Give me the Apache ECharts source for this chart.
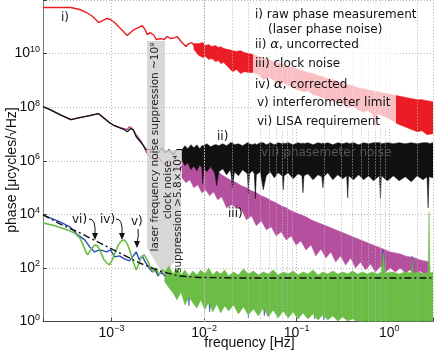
<!DOCTYPE html>
<html>
<head>
<meta charset="utf-8">
<script src="https://cdn.jsdelivr.net/npm/echarts@6/dist/echarts.min.js"></script>
<style>
  html, body { margin: 0; padding: 0; background: #fff; }
  #chart { width: 436px; height: 356px; }
</style>
</head>
<body>
<div id="chart"></div>
<script>
// frequency axis range [Hz], phase axis range [ucycles/rtHz]
const xMin = 1.82e-4, xMax = 2.97;
const yMin = 1, yMax = 1e12;

// i) raw phase measurement: smooth low-frequency part, then noisy band
const redLineF = [1.82e-4, 3.64e-4, 4.54e-4, 5.40e-4, 6.26e-4, 7.26e-4, 8.01e-4, 8.84e-4, 9.76e-4, 1.08e-3, 1.25e-3, 1.48e-3, 1.60e-3, 1.76e-3, 2.15e-3, 2.31e-3, 2.43e-3, 2.62e-3, 2.75e-3, 2.89e-3, 3.04e-3, 3.19e-3, 3.43e-3, 3.70e-3, 3.98e-3, 4.18e-3, 4.40e-3, 4.51e-3, 4.85e-3, 5.10e-3, 5.36e-3, 5.77e-3, 6.37e-3, 6.86e-3, 7.38e-3, 7.95e-3];
const redLineV = [5.25e11, 5.25e11, 4.42e11, 3.41e11, 2.42e11, 1.44e11, 1.71e11, 2.03e11, 1.87e11, 1.44e11, 8.61e10, 4.71e10, 6.10e10, 7.89e10, 1.11e11, 7.89e10, 5.13e10, 6.10e10, 6.64e10, 4.71e10, 3.34e10, 3.96e10, 3.64e10, 3.34e10, 4.32e10, 4.71e10, 3.64e10, 3.34e10, 3.96e10, 4.32e10, 3.96e10, 2.58e10, 1.83e10, 2.36e10, 2.58e10, 1.83e10];
const redBandF = [7.76e-3, 8.77e-3, 9.68e-3, 1.04e-2, 1.12e-2, 1.21e-2, 1.33e-2, 1.44e-2, 1.51e-2, 1.63e-2, 1.84e-2, 2.03e-2, 2.24e-2, 2.47e-2, 2.73e-2, 3.01e-2, 3.41e-2, 3.86e-2, 4.36e-2, 4.94e-2, 5.58e-2, 6.32e-2, 7.15e-2, 8.09e-2, 9.15e-2, 0.1035, 0.117, 0.1325, 0.150, 0.170, 0.192, 0.217, 0.246, 0.278, 0.314, 0.356, 0.402, 0.455, 0.515, 0.582, 0.659, 0.710, 0.746, 0.844, 0.954, 1.08, 1.22, 1.38, 1.56, 1.77, 2.00, 2.26, 2.56, 2.97];
const redBandTop = [2.36e10, 2.36e10, 2.58e10, 1.99e10, 2.17e10, 1.83e10, 1.99e10, 1.67e10, 1.83e10, 1.54e10, 1.41e10, 1.29e10, 1.19e10, 1.29e10, 1.09e10, 1.00e10, 9.18e9, 7.73e9, 7.08e9, 5.97e9, 5.02e9, 4.61e9, 3.88e9, 3.27e9, 3.00e9, 2.52e9, 2.31e9, 1.95e9, 1.79e9, 1.51e9, 1.38e9, 1.16e9, 1.07e9, 8.98e8, 8.24e8, 6.93e8, 6.37e8, 5.36e8, 4.92e8, 4.51e8, 4.14e8, 3.80e8, 3.80e8, 3.48e8, 3.20e8, 2.93e8, 2.69e8, 2.47e8, 2.26e8, 2.08e8, 1.91e8, 1.91e8, 1.75e8, 1.61e8];
const redBandBot = [1.41e10, 8.42e9, 7.08e9, 7.73e9, 5.97e9, 6.50e9, 5.02e9, 5.47e9, 4.23e9, 4.61e9, 3.00e9, 2.12e9, 2.52e9, 1.79e9, 2.12e9, 1.95e9, 1.95e9, 1.64e9, 1.07e9, 1.27e9, 1.07e9, 6.93e8, 8.24e8, 6.37e8, 5.36e8, 4.51e8, 3.80e8, 4.14e8, 2.93e8, 2.69e8, 2.26e8, 1.91e8, 1.75e8, 1.47e8, 1.35e8, 9.58e7, 1.14e8, 8.07e7, 6.79e7, 7.40e7, 5.72e7, 2.03e7, 5.72e7, 4.81e7, 4.05e7, 3.13e7, 2.42e7, 2.03e7, 1.71e7, 1.44e7, 1.21e7, 1.32e7, 9.37e6, 1.02e7];

// ii) alpha, uncorrected
const blackLineF = [1.82e-4, 2.17e-4, 2.77e-4, 3.64e-4, 4.54e-4, 5.81e-4, 7.26e-4, 8.21e-4, 9.52e-4, 1.08e-3, 1.22e-3, 1.38e-3, 1.48e-3, 1.60e-3, 1.72e-3, 1.85e-3, 2.10e-3, 2.37e-3, 2.75e-3, 3.04e-3, 3.27e-3, 3.52e-3, 3.79e-3, 4.18e-3, 4.62e-3, 5.10e-3, 5.77e-3];
const blackLineV = [1.04e8, 8.07e7, 5.25e7, 3.41e7, 4.05e7, 4.81e7, 5.72e7, 4.05e7, 2.63e7, 2.03e7, 1.71e7, 1.44e7, 1.21e7, 1.57e7, 1.44e7, 7.89e6, 4.71e6, 2.58e6, 2.58e6, 1.67e6, 2.17e6, 3.06e6, 1.99e6, 2.58e6, 1.67e6, 2.58e6, 2.58e6];
const blackBandF = [5.77e-3, 6.21e-3, 6.69e-3, 7.20e-3, 7.76e-3, 8.35e-3, 8.99e-3, 9.45e-3, 9.68e-3, 9.93e-3, 1.07e-2, 1.18e-2, 1.30e-2, 1.37e-2, 1.44e-2, 1.59e-2, 1.75e-2, 1.93e-2, 2.03e-2, 2.13e-2, 2.35e-2, 2.60e-2, 2.94e-2, 3.01e-2, 3.09e-2, 3.33e-2, 3.49e-2, 3.58e-2, 3.67e-2, 4.05e-2, 4.36e-2, 4.70e-2, 5.19e-2, 5.73e-2, 6.32e-2, 6.98e-2, 7.15e-2, 7.33e-2, 8.09e-2, 9.15e-2, 0.1035, 0.114, 0.117, 0.120, 0.1325, 0.150, 0.170, 0.187, 0.192, 0.197, 0.217, 0.246, 0.278, 0.314, 0.347, 0.356, 0.364, 0.412, 0.467, 0.528, 0.597, 0.675, 0.783, 0.803, 0.823, 0.954, 1.11, 1.28, 1.49, 1.73, 2.00, 2.32, 2.56, 2.63, 2.69, 2.97];
const blackBandTop = [2.58e6, 3.64e6, 2.81e6, 3.96e6, 3.06e6, 3.96e6, 2.81e6, 3.64e6, 3.64e6, 3.64e6, 4.32e6, 3.34e6, 3.96e6, 3.96e6, 3.64e6, 4.32e6, 3.64e6, 4.71e6, 4.71e6, 3.96e6, 4.32e6, 3.64e6, 4.71e6, 4.71e6, 4.32e6, 3.96e6, 4.32e6, 4.32e6, 3.96e6, 4.71e6, 4.71e6, 3.96e6, 4.71e6, 3.96e6, 4.71e6, 4.32e6, 4.71e6, 4.32e6, 4.71e6, 3.96e6, 4.71e6, 4.32e6, 4.71e6, 4.32e6, 4.71e6, 3.96e6, 4.71e6, 4.32e6, 4.71e6, 4.32e6, 4.71e6, 3.96e6, 4.71e6, 4.32e6, 4.71e6, 4.71e6, 4.32e6, 4.71e6, 3.96e6, 4.71e6, 4.32e6, 4.71e6, 4.71e6, 4.71e6, 4.32e6, 4.71e6, 4.32e6, 4.71e6, 4.32e6, 4.71e6, 4.32e6, 4.71e6, 4.71e6, 4.71e6, 4.32e6, 4.71e6];
const blackBandBot = [1.09e6, 6.50e5, 8.42e5, 4.61e5, 6.50e5, 4.23e5, 7.08e5, 5.47e5, 1.38e5, 5.47e5, 3.88e5, 5.97e5, 3.56e5, 1.16e5, 3.88e5, 5.02e5, 3.00e5, 4.61e5, 9.79e4, 3.88e5, 2.75e5, 4.61e5, 3.27e5, 5.84e4, 3.27e5, 4.23e5, 3.27e5, 3.79e4, 3.00e5, 3.88e5, 8.24e4, 2.75e5, 3.88e5, 2.31e5, 3.56e5, 2.75e5, 8.24e4, 2.75e5, 3.56e5, 2.12e5, 3.27e5, 2.75e5, 6.37e4, 2.75e5, 3.27e5, 1.95e5, 3.00e5, 2.52e5, 9.79e4, 2.52e5, 3.56e5, 1.95e5, 3.00e5, 2.12e5, 2.75e5, 4.14e4, 2.75e5, 1.95e5, 3.00e5, 1.95e5, 2.75e5, 1.79e5, 2.75e5, 3.79e4, 2.75e5, 1.79e5, 2.75e5, 1.79e5, 2.52e5, 1.64e5, 2.75e5, 1.95e5, 2.52e5, 1.75e4, 2.52e5, 2.31e5];

// iii) clock noise
const magLineF = [1.82e-4, 2.17e-4, 2.77e-4, 3.64e-4, 4.54e-4, 5.81e-4, 7.26e-4, 8.21e-4, 9.52e-4, 1.08e-3, 1.22e-3, 1.38e-3, 1.48e-3, 1.56e-3, 1.64e-3, 1.72e-3, 1.85e-3, 2.10e-3, 2.37e-3, 2.68e-3, 2.96e-3, 3.27e-3, 3.70e-3, 4.18e-3, 4.73e-3, 5.36e-3, 5.77e-3];
const magLineV = [1.04e8, 8.07e7, 5.25e7, 3.41e7, 4.05e7, 4.81e7, 5.72e7, 4.05e7, 2.63e7, 2.03e7, 1.71e7, 1.57e7, 1.44e7, 1.87e7, 1.71e7, 1.57e7, 9.37e6, 5.13e6, 2.17e6, 1.29e6, 9.18e5, 1.29e6, 7.08e5, 1.09e6, 4.61e5, 7.08e5, 5.47e5];
const magBandF = [5.77e-3, 6.37e-3, 7.03e-3, 7.76e-3, 8.56e-3, 9.45e-3, 1.04e-2, 1.15e-2, 1.27e-2, 1.40e-2, 1.55e-2, 1.75e-2, 1.98e-2, 2.24e-2, 2.54e-2, 2.87e-2, 3.25e-2, 3.67e-2, 4.15e-2, 4.70e-2, 5.32e-2, 6.01e-2, 6.81e-2, 7.70e-2, 8.71e-2, 9.85e-2, 0.111, 0.126, 0.143, 0.161, 0.183, 0.207, 0.234, 0.264, 0.299, 0.338, 0.383, 0.433, 0.490, 0.554, 0.627, 0.710, 0.803, 0.908, 1.03, 1.16, 1.32, 1.49, 1.68, 1.90, 2.15, 2.44, 2.69];
const magBandTop = [1.09e6, 1.29e6, 9.18e5, 1.00e6, 7.73e5, 8.42e5, 6.50e5, 5.97e5, 5.02e5, 4.23e5, 3.00e5, 2.31e5, 1.79e5, 1.51e5, 1.16e5, 9.79e4, 7.56e4, 6.37e4, 4.92e4, 4.14e4, 3.20e4, 2.69e4, 2.08e4, 1.75e4, 1.35e4, 1.14e4, 9.58e3, 8.07e3, 6.23e3, 5.25e3, 4.42e3, 3.72e3, 3.13e3, 2.63e3, 2.22e3, 1.87e3, 1.57e3, 1.32e3, 1.11e3, 9.37e2, 7.89e2, 6.64e2, 5.60e2, 4.71e2, 3.96e2, 3.64e2, 3.34e2, 2.81e2, 2.58e2, 2.36e2, 1.99e2, 1.83e2, 1.67e2];
const magBandBot = [2.31e5, 1.51e5, 1.95e5, 9.79e4, 1.27e5, 6.37e4, 8.24e4, 4.92e4, 6.94e4, 3.48e4, 4.51e4, 1.75e4, 2.26e4, 1.75e4, 1.47e4, 6.23e3, 8.79e3, 3.72e3, 5.71e3, 2.63e3, 3.41e3, 1.57e3, 2.22e3, 1.11e3, 1.57e3, 7.24e2, 1.02e3, 4.71e2, 7.24e2, 2.81e2, 5.13e2, 2.36e2, 3.96e2, 1.67e2, 2.81e2, 1.29e2, 2.36e2, 1.00e2, 1.67e2, 84.2, 1.41e2, 70.8, 1.19e2, 70.8, 1.00e2, 70.8, 1.00e2, 65.0, 84.2, 59.7, 77.2, 59.7, 70.8];

// iv) alpha, corrected
const blueLineF = [1.82e-4, 2.17e-4, 2.77e-4, 3.55e-4, 4.32e-4, 5.14e-4, 5.81e-4, 6.57e-4, 7.44e-4, 8.21e-4, 8.84e-4, 9.76e-4, 1.08e-3, 1.22e-3, 1.38e-3, 1.56e-3, 1.72e-3, 1.85e-3, 2.00e-3, 2.15e-3, 2.31e-3, 2.55e-3, 2.75e-3, 2.96e-3, 3.19e-3, 3.43e-3, 3.79e-3];
const blueLineV = [9.58e3, 7.40e3, 5.25e3, 3.41e3, 1.71e3, 1.11e3, 6.10e2, 3.96e2, 4.71e2, 4.32e2, 3.96e2, 4.71e2, 2.58e2, 2.81e2, 2.17e2, 1.83e2, 2.81e2, 3.96e2, 1.99e2, 2.81e2, 1.67e2, 1.00e2, 70.8, 84.2, 50.2, 70.8, 50.2];
const blueBandF = [3.79e-3, 4.40e-3, 5.10e-3, 5.63e-3, 6.21e-3, 6.69e-3, 6.86e-3, 7.03e-3, 8.35e-3, 1.02e-2, 1.12e-2, 1.15e-2, 1.18e-2, 1.44e-2, 1.84e-2, 2.94e-2, 3.01e-2, 3.09e-2, 4.36e-2, 4.47e-2, 4.58e-2, 8.09e-2, 0.154, 0.157, 0.161, 0.192, 0.197, 0.202, 0.823, 0.865, 0.908, 1.73, 1.77, 1.81, 2.97];
const blueBandTop = [50.2, 35.6, 35.6, 32.7, 35.6, 32.7, 32.7, 32.7, 35.6, 32.7, 35.6, 32.7, 35.6, 32.7, 35.6, 32.7, 32.7, 32.7, 35.6, 32.7, 35.6, 32.7, 35.6, 32.7, 35.6, 32.7, 32.7, 32.7, 32.7, 4.71e2, 32.7, 35.6, 2.81e2, 35.6, 32.7];
const blueBandBot = [30.0, 21.2, 15.1, 17.9, 12.7, 12.7, 3.80, 12.7, 9.79, 7.56, 6.37, 2.26, 6.37, 6.37, 5.36, 5.36, 1.35, 4.92, 4.51, 1.61, 4.51, 4.14, 3.80, 1.24, 3.80, 3.48, 1.14, 3.48, 2.26, 2.26, 2.26, 2.08, 2.08, 2.08, 2.08];

// v) interferometer limit
const greenLineF = [1.82e-4, 2.45e-4, 3.55e-4, 4.11e-4, 4.54e-4, 4.89e-4, 5.27e-4, 5.53e-4, 5.96e-4, 6.57e-4, 7.08e-4, 7.62e-4, 8.21e-4, 8.84e-4, 9.52e-4, 1.02e-3, 1.10e-3, 1.19e-3, 1.28e-3, 1.38e-3, 1.48e-3, 1.60e-3, 1.72e-3, 1.85e-3, 1.95e-3, 2.10e-3, 2.26e-3, 2.43e-3, 2.62e-3, 2.82e-3, 3.04e-3, 3.27e-3, 3.52e-3, 3.79e-3];
const greenLineV = [4.81e3, 3.72e3, 2.42e3, 1.87e3, 1.32e3, 7.89e2, 3.96e2, 3.06e2, 4.71e2, 7.24e2, 6.65e2, 3.96e2, 2.17e2, 1.54e2, 1.29e2, 1.99e2, 3.96e2, 7.24e2, 1.02e3, 1.11e3, 7.89e2, 3.96e2, 1.67e2, 84.2, 1.29e2, 2.58e2, 3.06e2, 1.99e2, 1.09e2, 70.8, 1.00e2, 54.7, 84.2, 70.8];
const greenBandF = [3.79e-3, 4.18e-3, 4.62e-3, 5.10e-3, 5.63e-3, 6.21e-3, 6.86e-3, 7.57e-3, 8.35e-3, 9.22e-3, 1.02e-2, 1.12e-2, 1.24e-2, 1.37e-2, 1.51e-2, 1.67e-2, 1.84e-2, 2.08e-2, 2.35e-2, 2.66e-2, 3.01e-2, 3.41e-2, 3.86e-2, 4.36e-2, 4.94e-2, 5.58e-2, 6.32e-2, 7.15e-2, 8.09e-2, 9.15e-2, 0.1035, 0.117, 0.1325, 0.150, 0.170, 0.192, 0.217, 0.246, 0.278, 0.314, 0.356, 0.402, 0.455, 0.515, 0.582, 0.659, 0.746, 0.823, 0.865, 0.908, 1.08, 1.28, 1.49, 1.73, 1.77, 1.81, 2.10, 2.38, 2.63, 2.69, 2.76, 2.97];
const greenBandTop = [70.8, 1.19e2, 59.7, 1.00e2, 54.7, 84.2, 50.2, 77.2, 54.7, 84.2, 59.7, 1.00e2, 54.7, 77.2, 59.7, 84.2, 50.2, 70.8, 54.7, 91.8, 59.7, 77.2, 54.7, 70.8, 59.7, 84.2, 54.7, 70.8, 59.7, 77.2, 54.7, 70.8, 59.7, 84.2, 54.7, 70.8, 59.7, 77.2, 59.7, 70.8, 59.7, 77.2, 59.7, 70.8, 59.7, 70.8, 59.7, 70.8, 3.64e2, 65.0, 70.8, 59.7, 70.8, 65.0, 2.17e2, 65.0, 70.8, 59.7, 70.8, 1.24e4, 65.0, 70.8];
const greenBandBot = [30.0, 17.9, 11.6, 6.37, 12.7, 4.14, 8.24, 4.92, 3.20, 6.37, 2.69, 5.36, 2.26, 4.51, 2.08, 3.80, 2.47, 4.14, 1.91, 3.48, 1.75, 2.93, 1.61, 3.20, 1.47, 2.69, 1.35, 2.47, 1.35, 2.26, 1.24, 2.08, 1.24, 1.91, 1.14, 1.75, 1.14, 1.61, 1.04, 1.47, 1.04, 1.24, 1, 1, 1, 1, 1, 1, 1, 1, 1, 1, 1, 1, 1, 1, 1, 1, 1, 1, 1, 1];

// vi) LISA requirement
const lisaF = [1.82e-4, 2.77e-4, 4.54e-4, 7.44e-4, 1.22e-3, 2.00e-3, 3.27e-3, 5.36e-3, 8.77e-3, 2.35e-2, 2.97];
const lisaV = [9.58e3, 4.42e3, 2.03e3, 8.61e2, 3.64e2, 1.54e2, 77.2, 50.2, 44.0, 42.3, 42.3];

const legendLines = ['i) raw phase measurement', '(laser phase noise)', 'ii) ', 'iii) clock noise', 'iv) ', 'v) interferometer limit', 'vi) LISA requirement'];

const RED = '#ec1c24', BLACK = '#111111', MAGENTA = '#b5509f', BLUE = '#2b48b8', GREEN = '#6bbd45';
const SANS = '"Liberation Sans", Arial, sans-serif';
const LSANS = '"DejaVu Sans", sans-serif';

const chart = echarts.init(document.getElementById('chart'));

function curve(name, f, v, color, z, width, type) {
  return {
    name, type: 'line', z, symbol: 'none', silent: true, clip: true,
    data: f.map((x, i) => [x, v[i]]),
    lineStyle: { color, width: width || 1.3, type: type || 'solid' }
  };
}

// noise spectra drawn as one filled envelope between top and bottom values
function band(name, f, top, bot, color, z) {
  return {
    name, type: 'custom', z, clip: true, silent: true,
    encode: { x: 0, y: [1, 2] },
    data: f.map((x, i) => [x, top[i], bot[i]]),
    renderItem: function (params, api) {
      if (params.dataIndexInside !== 0) return null;
      const upper = [], lower = [];
      for (let i = 0; i < params.dataInsideLength; i++) {
        upper.push(api.coord([api.value(0, i), api.value(1, i)]));
        lower.push(api.coord([api.value(0, i), api.value(2, i)]));
      }
      return {
        type: 'polygon',
        shape: { points: upper.concat(lower.reverse()) },
        style: { fill: color, stroke: color, lineWidth: 0.5 }
      };
    }
  };
}

function powLabel(v) {
  const l = Math.log10(v);
  const e = Math.round(l);
  if (Math.abs(l - e) > 1e-6 || e === 12) return '';
  return '{b|10}{e|' + (e < 0 ? '\u2212' + (-e) : e) + '}';
}
const labelRich = {
  b: { fontSize: 14, fontFamily: SANS, color: '#111' },
  e: { fontSize: 9, fontFamily: SANS, color: '#111', padding: [0, 0, 8, 0] }
};

// dotted minor grid lines at 2..9 x 10^n
const minorGrid = [];
[1e-4, 1e-3, 1e-2, 1e-1, 1].forEach(d => {
  [2, 3, 4, 5, 6, 7, 8, 9].forEach(m => {
    const v = d * m;
    if (v > xMin && v < xMax) minorGrid.push({ xAxis: v });
  });
});
const gridStyle = { color: '#b4b4b4', type: [1, 2], width: 1 };

function txt(text, x, y, extra) {
  return Object.assign({
    type: 'text', x, y, z: 20, silent: true,
    style: { text, font: '12px ' + LSANS, fill: '#111', align: 'left', verticalAlign: 'middle' }
  }, extra || {});
}
function alphaText(pre, post, x, y) {
  return {
    type: 'text', x, y, z: 20, silent: true,
    style: {
      text: '{a|' + pre + '}{g|\u03b1}{a|' + post + '}', align: 'left', verticalAlign: 'middle',
      rich: {
        a: { fontSize: 12, fontFamily: LSANS, fill: '#111', color: '#111' },
        g: { fontSize: 13, fontFamily: '"DejaVu Serif", serif', fontStyle: 'italic', color: '#111' }
      }
    }
  };
}
function arrow(x1, y1, cx, cy, x2, y2) {
  return [
    { type: 'bezierCurve', z: 20, silent: true, shape: { x1, y1, x2, y2: y2 - 5, cpx1: cx, cpy1: cy }, style: { stroke: '#111', lineWidth: 1, fill: null } },
    { type: 'polygon', z: 20, silent: true, shape: { points: [[x2 - 3, y2 - 7], [x2 + 3, y2 - 7], [x2, y2]] }, style: { fill: '#111' } }
  ];
}

const option = {
  animation: false,
  grid: { left: 43, right: 0, top: 0, bottom: 34.5 },
  xAxis: {
    type: 'log', logBase: 10, min: xMin, max: xMax,
    axisLine: { show: true, lineStyle: { color: '#444', width: 1 } },
    axisTick: { show: true, inside: true, length: 4, lineStyle: { color: '#444' } },
    axisLabel: { formatter: powLabel, rich: labelRich, margin: 3 },
    splitLine: { show: true, lineStyle: gridStyle }
  },
  yAxis: {
    type: 'log', logBase: 100, min: yMin, max: yMax,
    axisLine: { show: true, lineStyle: { color: '#777', width: 1 } },
    axisTick: { show: true, inside: true, length: 4, lineStyle: { color: '#444' } },
    axisLabel: { formatter: powLabel, rich: labelRich, margin: 3 },
    splitLine: { show: true, lineStyle: gridStyle }
  },
  series: [
    {
      type: 'line', z: 1, data: [], silent: true,
      markLine: { silent: true, symbol: 'none', label: { show: false }, lineStyle: gridStyle, data: minorGrid, animation: false }
    },
    curve('raw phase', redLineF, redLineV, RED, 2, 1.4),
    band('raw phase noise', redBandF, redBandTop, redBandBot, RED, 2),
    curve('clock noise', magLineF, magLineV, MAGENTA, 2),
    band('clock noise band', magBandF, magBandTop, magBandBot, MAGENTA, 2),
    curve('alpha uncorrected', blackLineF, blackLineV, BLACK, 2),
    band('alpha uncorrected band', blackBandF, blackBandTop, blackBandBot, BLACK, 2),
    band('alpha corrected band', blueBandF, blueBandTop, blueBandBot, BLUE, 4),
    curve('alpha corrected', blueLineF, blueLineV, BLUE, 4, 1.4),
    band('interferometer band', greenBandF, greenBandTop, greenBandBot, GREEN, 4),
    curve('interferometer limit', greenLineF, greenLineV, GREEN, 4, 1.6),
    curve('LISA requirement', lisaF, lisaV, BLACK, 5, 1.4, [7, 3, 2, 3])
  ],
  graphic: [
    // translucent legend box over the raw phase trace
    { type: 'rect', z: 6, silent: true, shape: { x: 253, y: 3, width: 143, height: 126 }, style: { fill: 'rgba(255,255,255,0.72)' } },
    // suppression arrows
    { type: 'polygon', z: 3, silent: true, shape: { points: [[147, 41], [165, 41], [165, 150], [181, 150], [181, 252], [164, 276], [147, 248]] }, style: { fill: 'rgba(208,208,208,0.82)' } },
    txt('laser frequency noise suppression ~10\u2079', 155.5, 147, { rotation: Math.PI / 2, style: { text: 'laser frequency noise suppression ~10\u2079', font: '10.5px ' + LSANS, fill: '#222', align: 'center', verticalAlign: 'middle' } }),
    txt('clock noise', 168, 190, { rotation: Math.PI / 2, style: { text: 'clock noise', font: '10.5px ' + LSANS, fill: '#222', align: 'center', verticalAlign: 'middle' } }),
    txt('suppression >5.8\u00d710\u2074', 178, 214, { rotation: Math.PI / 2, style: { text: 'suppression >5.8\u00d710\u2074', font: '10.5px ' + LSANS, fill: '#222', align: 'center', verticalAlign: 'middle' } }),
    // legend text
    txt(legendLines[0], 255, 15),
    txt(legendLines[1], 268, 30),
    alphaText(legendLines[2], ', uncorrected', 255, 45),
    txt(legendLines[3], 255, 64),
    alphaText(legendLines[4], ', corrected', 255, 85),
    txt(legendLines[5], 257, 103),
    txt(legendLines[6], 257, 122),
    txt('vii) phasemeter noise', 261, 153, { style: { text: 'vii) phasemeter noise', font: '12px ' + LSANS, fill: '#555', align: 'left', verticalAlign: 'middle' } }),
    // curve tags
    txt('i)', 61, 18),
    txt('ii)', 217, 137),
    txt('iii)', 228, 214),
    txt('vi)', 72, 220),
    txt('iv)', 100, 220),
    txt('v)', 131, 222),
    ...arrow(89, 219, 96, 218, 95, 240),
    ...arrow(116, 219, 123, 218, 122, 240),
    ...arrow(138, 229, 139, 236, 137, 248),
    // axis titles
    txt('frequency [Hz]', 249.5, 343, { style: { text: 'frequency [Hz]', font: '14px ' + SANS, fill: '#111', align: 'center', verticalAlign: 'middle' } }),
    txt('phase [\u03bccycles/\u221aHz]', 12, 170, { rotation: Math.PI / 2, style: { text: 'phase [\u03bccycles/\u221aHz]', font: '14px ' + SANS, fill: '#111', align: 'center', verticalAlign: 'middle' } })
  ]
};

chart.setOption(option);
</script>
</body>
</html>
